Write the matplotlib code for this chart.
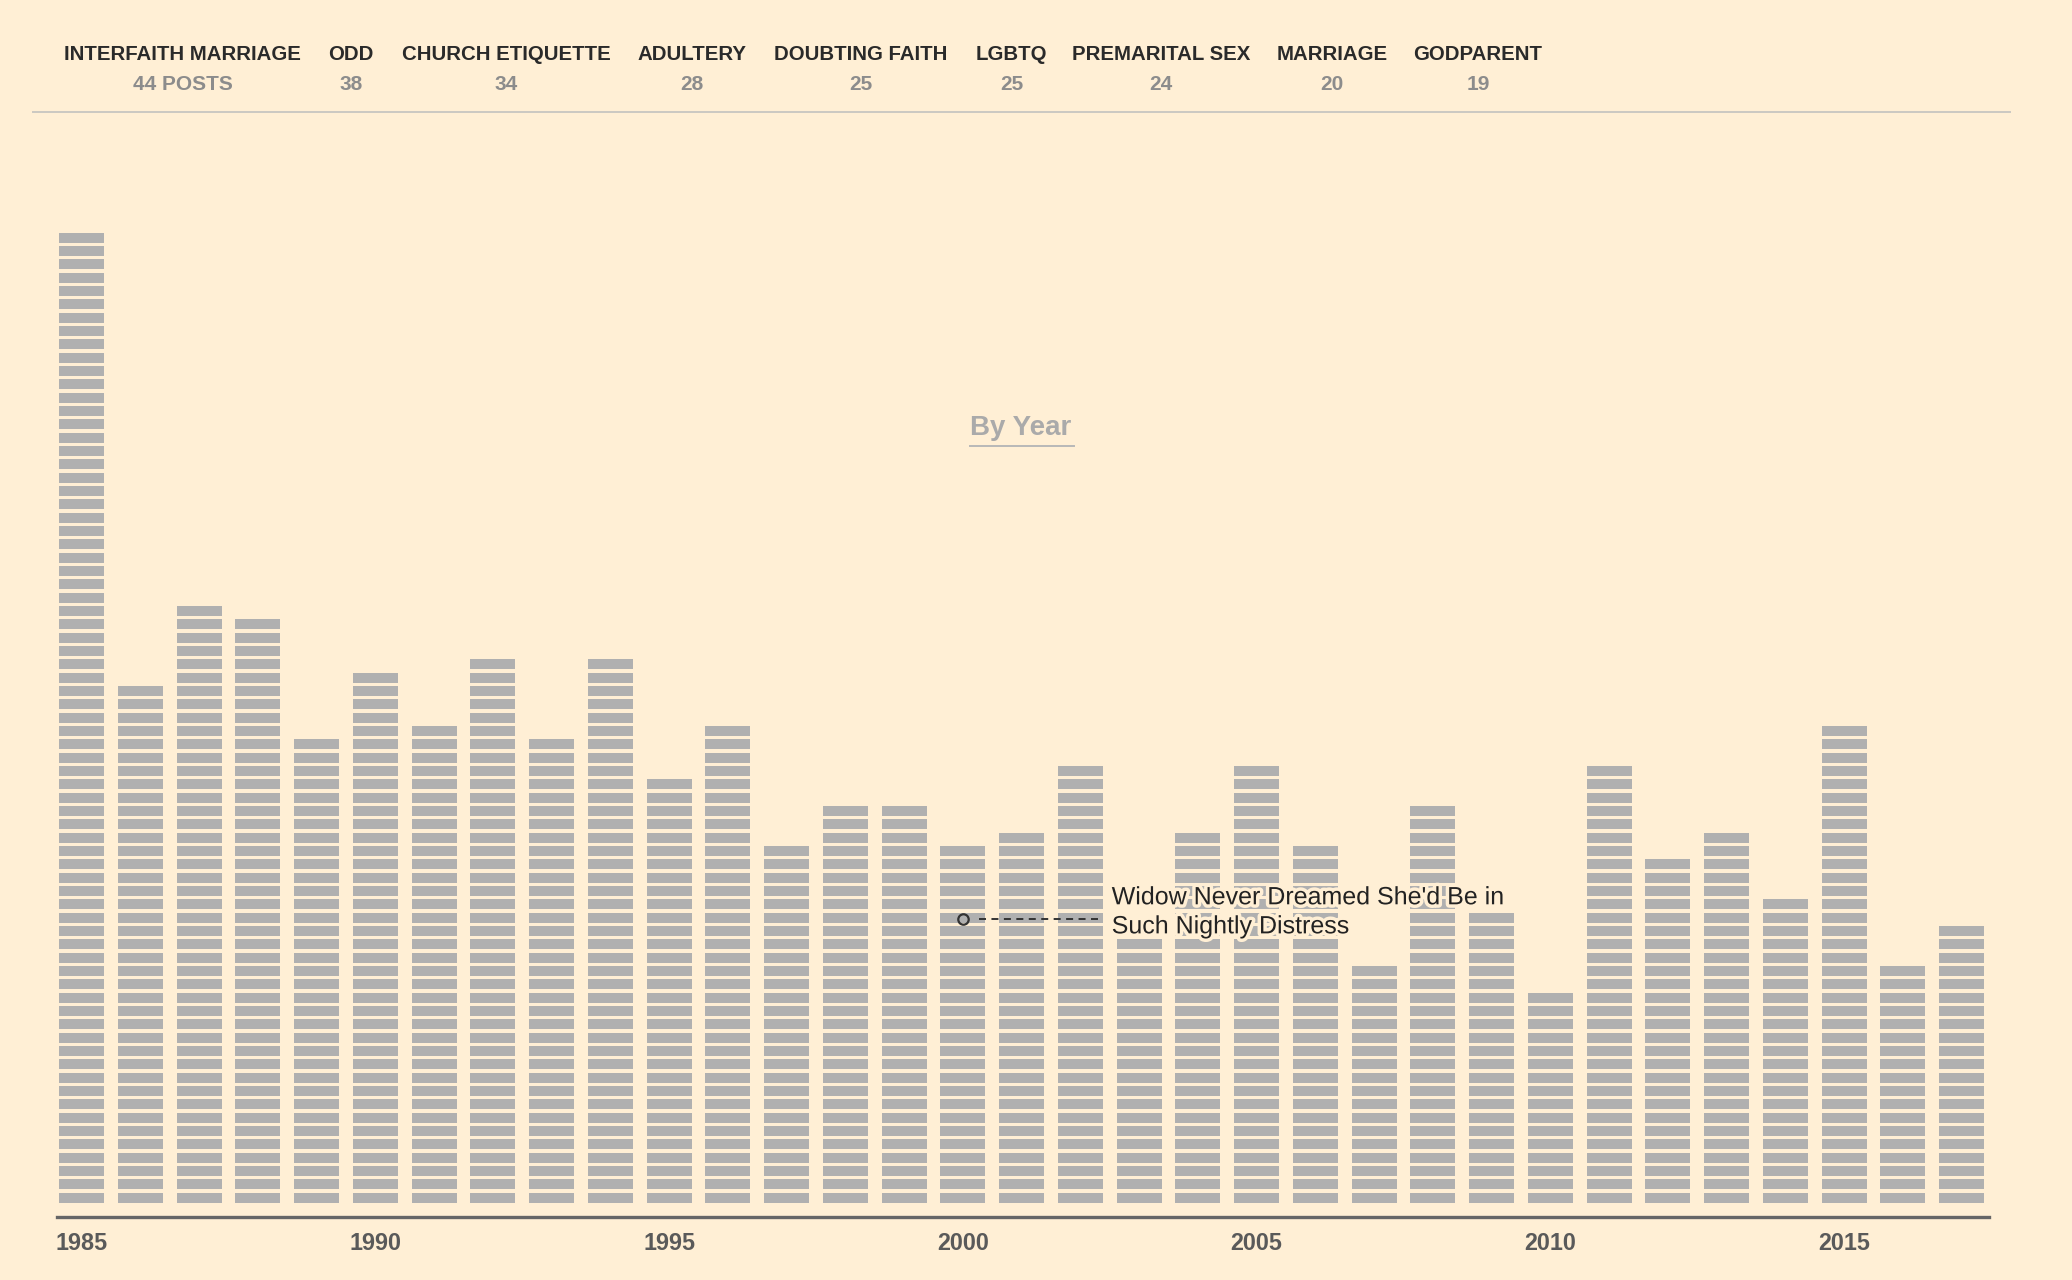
import matplotlib
matplotlib.use("Agg")
import matplotlib.pyplot as plt
import matplotlib.patheffects as pe
from matplotlib.lines import Line2D

BG = "#ffefd5"
BAR = "#b0b0b0"

# header: top topics and their post counts
topics = ["INTERFAITH MARRIAGE", "ODD", "CHURCH ETIQUETTE", "ADULTERY", "DOUBTING FAITH",
          "LGBTQ", "PREMARITAL SEX", "MARRIAGE", "GODPARENT"]
topic_counts = ["44 POSTS", "38", "34", "28", "25", "25", "24", "20", "19"]

# posts per year, one stacked block per post
years = list(range(1985, 2018))
posts = [73, 39, 45, 44, 35, 40, 36, 41, 35, 41, 32, 36, 27, 30, 30, 27, 28,
         33, 20, 28, 33, 27, 18, 30, 22, 16, 33, 26, 28, 23, 36, 18, 21]
year_ticks = [1985, 1990, 1995, 2000, 2005, 2010, 2015]

note_year = 2000
note_lines = ["Widow Never Dreamed She'd Be in", "Such Nightly Distress"]

W, H = 2072, 1280
fig = plt.figure(figsize=(W / 100, H / 100), dpi=100, facecolor=BG)
plt.rcParams["font.family"] = ["Liberation Sans", "DejaVu Sans"]

# header row (pixel centres)
hdr_x = [182.5, 351, 506, 692, 861, 1011.5, 1161, 1332, 1478]
for cx, name, cnt in zip(hdr_x, topics, topic_counts):
    fig.text(cx / W, 1 - 60 / H, name, ha="center", va="baseline",
             fontsize=14.7, fontweight="bold", color="#2a2a2a")
    fig.text(cx / W, 1 - 90 / H, cnt, ha="center", va="baseline",
             fontsize=15, fontweight="bold", color="#8c8c8c")
fig.add_artist(Line2D([33 / W, 2010 / W], [1 - 112.3 / H] * 2, color="#cbc8c2", lw=1.4))

# "By Year" heading
fig.text(1021 / W, 1 - 435 / H, "By Year", ha="center", va="baseline",
         fontsize=20, fontweight="bold", color="#aaaaaa")
fig.add_artist(Line2D([970 / W, 1074 / W], [1 - 445.7 / H] * 2, color="#b8b8b8", lw=1.4))

# main axes, positioned in pixels
left, right, bottom, top = 57.3, 1989, 1216.7, 150
ax = fig.add_axes([left / W, 1 - bottom / H, (right - left) / W, (bottom - top) / H])
ax.set_facecolor(BG)
ax.set_xlim(1984.588, 2017.468)
ax.set_ylim(-1.05, 78.95)

xs, bots = [], []
for y, n in zip(years, posts):
    for k in range(n):
        xs.append(y)
        bots.append(k)
ax.bar(xs, 0.75, bottom=bots, width=0.766, color=BAR, align="center", linewidth=0)

for s in ["top", "left", "right"]:
    ax.spines[s].set_visible(False)
ax.spines["bottom"].set_color("#666666")
ax.spines["bottom"].set_linewidth(2.4)
ax.set_xticks([])
ax.set_yticks([])

for y in year_ticks:
    ax.text(y, -3.55, str(y), ha="center", va="baseline", fontsize=16.8,
            fontweight="bold", color="#5a5a5a", clip_on=False)

# annotation
ax.plot([note_year + 0.28, note_year + 2.30], [21.26, 21.26], color="#333333",
        lw=1.4, ls=(0, (3.6, 2.8)))
ax.plot([note_year], [21.26], marker="o", ms=7.5, mfc="none", mec="#333333", mew=1.6)
halo = [pe.withStroke(linewidth=5, foreground=BG)]
ax.text(note_year + 2.535, 22.38, note_lines[0], ha="left", va="baseline",
        fontsize=18, color="#222222", path_effects=halo)
ax.text(note_year + 2.535, 20.2, note_lines[1], ha="left", va="baseline",
        fontsize=18, color="#222222", path_effects=halo)

fig.savefig("out.png", dpi=100, facecolor=BG)
